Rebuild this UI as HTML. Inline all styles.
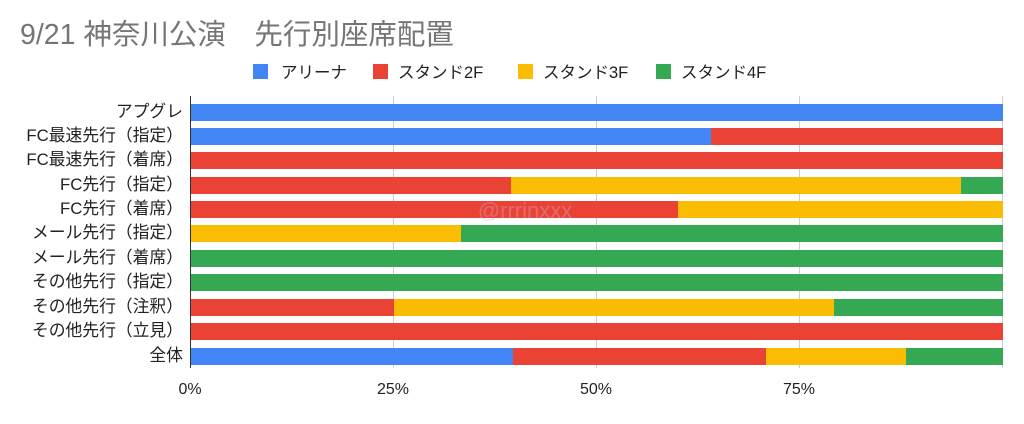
<!DOCTYPE html>
<html><head><meta charset="utf-8"><style>
body{margin:0;background:#fff;width:1024px;height:419px;overflow:hidden;font-family:"Liberation Sans","Noto Sans CJK JP",sans-serif}
</style></head><body>
<svg width="1024" height="419" xmlns="http://www.w3.org/2000/svg" font-family="Liberation Sans, Noto Sans CJK JP, sans-serif">
<text x="20" y="44" font-size="28.5" fill="#757575">9/21 神奈川公演　先行別座席配置</text>
<g font-size="16.5" fill="#222">
<rect x="253" y="64" width="15" height="15" fill="#4285f4"/><text x="281" y="78">アリーナ</text>
<rect x="373" y="64" width="15" height="15" fill="#ea4335"/><text x="398" y="78">スタンド2F</text>
<rect x="518" y="64" width="15" height="15" fill="#fbbc04"/><text x="543" y="78">スタンド3F</text>
<rect x="656" y="64" width="15" height="15" fill="#34a853"/><text x="681" y="78">スタンド4F</text>
</g>
<g stroke="#ccc" stroke-width="1">
<line x1="393.5" y1="96" x2="393.5" y2="368"/><line x1="596.5" y1="96" x2="596.5" y2="368"/><line x1="799.5" y1="96" x2="799.5" y2="368"/><line x1="1002.5" y1="96" x2="1002.5" y2="368"/>
</g>
<g>
<rect x="190" y="104" width="813" height="17" fill="#4285f4"/>
<rect x="190" y="128" width="521" height="17" fill="#4285f4"/><rect x="711" y="128" width="292" height="17" fill="#ea4335"/>
<rect x="190" y="152" width="813" height="17" fill="#ea4335"/>
<rect x="190" y="177" width="321" height="17" fill="#ea4335"/><rect x="511" y="177" width="450" height="17" fill="#fbbc04"/><rect x="961" y="177" width="42" height="17" fill="#34a853"/>
<rect x="190" y="201" width="488" height="17" fill="#ea4335"/><rect x="678" y="201" width="325" height="17" fill="#fbbc04"/>
<rect x="190" y="225" width="271" height="17" fill="#fbbc04"/><rect x="461" y="225" width="542" height="17" fill="#34a853"/>
<rect x="190" y="250" width="813" height="17" fill="#34a853"/>
<rect x="190" y="274" width="813" height="17" fill="#34a853"/>
<rect x="190" y="299" width="204" height="17" fill="#ea4335"/><rect x="394" y="299" width="440" height="17" fill="#fbbc04"/><rect x="834" y="299" width="169" height="17" fill="#34a853"/>
<rect x="190" y="323" width="813" height="17" fill="#ea4335"/>
<rect x="190" y="348" width="323" height="17" fill="#4285f4"/><rect x="513" y="348" width="253" height="17" fill="#ea4335"/><rect x="766" y="348" width="140" height="17" fill="#fbbc04"/><rect x="906" y="348" width="97" height="17" fill="#34a853"/>
</g>
<line x1="190.5" y1="96" x2="190.5" y2="368" stroke="#333" stroke-width="1"/>
<text x="525" y="218" font-size="22" fill="#c8b8e0" opacity="0.35" text-anchor="middle">@rrrinxxx</text>
<g font-size="16.8" fill="#222" text-anchor="end">
<text x="183" y="117">アプグレ</text>
<text x="183" y="141">FC最速先行（指定）</text>
<text x="183" y="165">FC最速先行（着席）</text>
<text x="183" y="190">FC先行（指定）</text>
<text x="183" y="214">FC先行（着席）</text>
<text x="183" y="238">メール先行（指定）</text>
<text x="183" y="263">メール先行（着席）</text>
<text x="183" y="287">その他先行（指定）</text>
<text x="183" y="312">その他先行（注釈）</text>
<text x="183" y="336">その他先行（立見）</text>
<text x="183" y="361">全体</text>
</g>
<g font-size="16" fill="#222" text-anchor="middle">
<text x="190" y="394">0%</text><text x="393" y="394">25%</text><text x="596" y="394">50%</text><text x="799" y="394">75%</text>
</g>
</svg>
</body></html>
